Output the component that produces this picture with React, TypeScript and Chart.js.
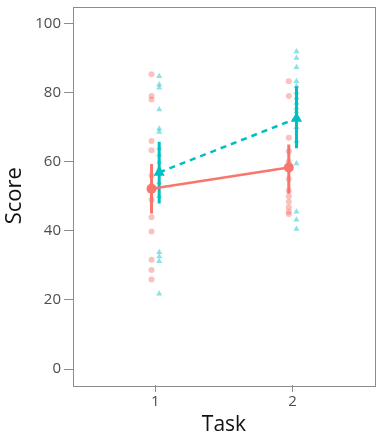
import React, { useEffect, useRef } from "react";
import { Chart, registerables } from "chart.js";

Chart.register(...registerables);

const tasks = [1, 2];
const tickLabels = ["1", "2"];
const yTicks = [0, 20, 40, 60, 80, 100];

// individual scores, group A (red circles)
const redTask1 = [85.3, 79, 78, 66, 63.3, 56, 53, 49, 43.9, 39.8, 31.6, 28.7, 25.9];
const redTask2 = [83.3, 79, 66.9, 63, 60, 55, 51.6, 50, 48.4, 46.8, 45.5, 44.9];
// individual scores, group B (teal triangles)
const tealTask1 = [84.7, 82.3, 81.4, 75.1, 69.5, 68.6, 64, 62, 60, 58, 54, 50, 33.8, 32.6, 31.2, 21.8];
const tealTask2 = [91.9, 90, 87.3, 83.3, 81.8, 80, 78.5, 77, 75.5, 74.5, 73, 70, 66, 59.5, 45.5, 43.2, 40.5];

// means and error bars
const redMeans = [52.2, 58.3];
const redLower = [45.0, 50.8];
const redUpper = [59.3, 65.0];
const tealMeans = [56.9, 72.5];
const tealLower = [47.9, 63.9];
const tealUpper = [65.8, 81.8];

const RED = "#F8766D";
const TEAL = "#00BFC4";
const RED_A = "rgba(248,118,109,0.45)";
const TEAL_A = "rgba(0,191,196,0.45)";
const DODGE = 0.028;
const FONT = "Open Sans";

export default function App() {
  const ref = useRef<HTMLCanvasElement | null>(null);

  useEffect(() => {
    document.body.style.margin = "0";
    const canvas = ref.current;
    if (!canvas) return;

    const pts = (x: number, arr: number[]) => arr.map((y) => ({ x, y }));
    const redPts = [...pts(tasks[0] - DODGE, redTask1), ...pts(tasks[1] - DODGE, redTask2)];
    const tealPts = [...pts(tasks[0] + DODGE, tealTask1), ...pts(tasks[1] + DODGE, tealTask2)];

    const errBars: any[] = [];
    tasks.forEach((t, i) => {
      errBars.push({
        type: "line",
        data: [
          { x: t - DODGE, y: redLower[i] },
          { x: t - DODGE, y: redUpper[i] },
        ],
        borderColor: RED,
        borderWidth: 3,
        pointRadius: 0,
        order: 3,
      });
      errBars.push({
        type: "line",
        data: [
          { x: t + DODGE, y: tealLower[i] },
          { x: t + DODGE, y: tealUpper[i] },
        ],
        borderColor: TEAL,
        borderWidth: 3,
        pointRadius: 0,
        order: 3,
      });
    });

    const boxPlugin = {
      id: "box",
      afterDraw(chart: any) {
        const { ctx, chartArea } = chart;
        ctx.save();
        ctx.strokeStyle = "#8c8c8c";
        ctx.lineWidth = 1;
        ctx.strokeRect(
          Math.round(chartArea.left) + 0.5,
          Math.round(chartArea.top) + 0.5,
          Math.round(chartArea.right - chartArea.left),
          Math.round(chartArea.bottom - chartArea.top)
        );
        ctx.restore();
      },
    };

    const chart = new Chart(canvas, {
      type: "scatter",
      data: {
        datasets: [
          {
            data: redPts,
            pointStyle: "circle",
            pointRadius: 3,
            backgroundColor: RED_A,
            borderColor: "rgba(0,0,0,0)",
            borderWidth: 0,
            order: 2,
          },
          {
            data: tealPts,
            pointStyle: "triangle",
            pointRadius: 3.5,
            backgroundColor: TEAL_A,
            borderColor: "rgba(0,0,0,0)",
            borderWidth: 0,
            order: 2,
          },
          ...errBars,
          {
            type: "line",
            data: tasks.map((t, i) => ({ x: t - DODGE, y: redMeans[i] })),
            borderColor: RED,
            backgroundColor: RED,
            borderWidth: 2.5,
            pointStyle: "circle",
            pointRadius: 5,
            pointBorderWidth: 0,
            order: 1,
          },
          {
            type: "line",
            data: tasks.map((t, i) => ({ x: t + DODGE, y: tealMeans[i] })),
            borderColor: TEAL,
            backgroundColor: TEAL,
            borderWidth: 2.5,
            borderDash: [6, 5],
            pointStyle: "triangle",
            pointRadius: 6.5,
            pointBorderWidth: 0,
            order: 1,
          },
        ],
      },
      options: {
        animation: false,
        responsive: false,
        maintainAspectRatio: false,
        layout: { padding: { top: 5, right: 8, left: 0, bottom: 0 } },
        plugins: { legend: { display: false }, tooltip: { enabled: false } },
        scales: {
          x: {
            type: "linear",
            min: 0.4,
            max: 2.6,
            afterBuildTicks(scale: any) {
              scale.ticks = tasks.map((v) => ({ value: v }));
            },
            afterFit(scale: any) {
              scale.height = 53;
              scale.paddingLeft = 0;
              scale.paddingRight = 0;
            },
            ticks: {
              callback: (v: any) => tickLabels[tasks.indexOf(Number(v))] ?? "",
              color: "#4d4d4d",
              font: { family: FONT, size: 15 },
              padding: 1,
            },
            grid: {
              drawOnChartArea: false,
              drawTicks: true,
              tickLength: 7,
              tickColor: "#8c8c8c",
            },
            border: { display: false },
            title: {
              display: true,
              text: "Task",
              color: "#111",
              font: { family: FONT, size: 21 },
              padding: { top: 0, bottom: 0 },
            },
          },
          y: {
            type: "linear",
            min: -4.6,
            max: 104.9,
            afterBuildTicks(scale: any) {
              scale.ticks = yTicks.map((v) => ({ value: v }));
            },
            afterFit(scale: any) {
              scale.width = 73;
              scale.paddingTop = 0;
              scale.paddingBottom = 0;
            },
            ticks: {
              color: "#4d4d4d",
              font: { family: FONT, size: 15 },
              padding: 3,
            },
            grid: {
              drawOnChartArea: false,
              drawTicks: true,
              tickLength: 9,
              tickColor: "#8c8c8c",
            },
            border: { display: false },
            title: {
              display: true,
              text: "Score",
              color: "#111",
              font: { family: FONT, size: 22 },
              padding: { top: 2, bottom: 0 },
            },
          },
        },
      },
      plugins: [boxPlugin],
    } as any);

    return () => chart.destroy();
  }, []);

  return (
    <div style={{ width: 383, height: 438 }}>
      <canvas ref={ref} width={383} height={438} style={{ display: "block" }} />
    </div>
  );
}
